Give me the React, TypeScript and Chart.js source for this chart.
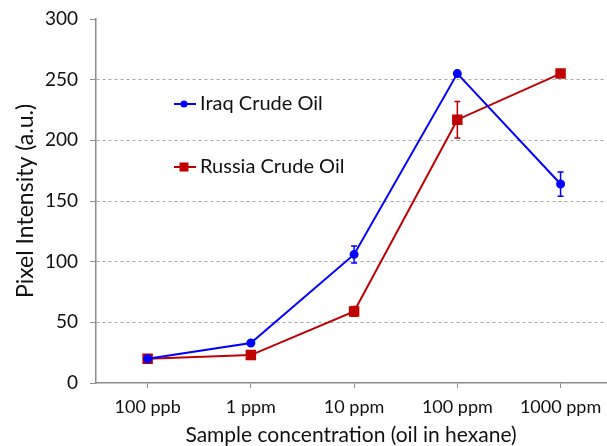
import React, { useEffect, useRef } from "react";
import { Chart, registerables } from "chart.js";

Chart.register(...registerables);

const categories = ["100 ppb", "1 ppm", "10 ppm", "100 ppm", "1000 ppm"];
const iraqValues = [20, 33, 106, 255, 164];
const iraqErrors = [0, 0, 7, 0, 10];
const russiaValues = [20, 23, 59, 217, 255];
const russiaErrors = [0, 0, 4, 15, 0];
const yTicks = [0, 50, 100, 150, 200, 250, 300];

const FONT = "Lato, 'Open Sans', sans-serif";

const errorBarPlugin = {
  id: "errorBars",
  afterDatasetsDraw(chart: any) {
    const ctx = chart.ctx;
    const ys = chart.scales.y;
    chart.data.datasets.forEach((ds: any, di: number) => {
      const meta = chart.getDatasetMeta(di);
      const errs: number[] = ds.errors || [];
      meta.data.forEach((pt: any, i: number) => {
        const e = errs[i];
        if (!e) return;
        const v = ds.data[i].y;
        const yTop = ys.getPixelForValue(v + e);
        const yBot = ys.getPixelForValue(v - e);
        const x = pt.x;
        ctx.save();
        ctx.strokeStyle = ds.borderColor;
        ctx.lineWidth = 1.5;
        ctx.beginPath();
        ctx.moveTo(x, yTop);
        ctx.lineTo(x, yBot);
        ctx.moveTo(x - 3, yTop);
        ctx.lineTo(x + 3, yTop);
        ctx.moveTo(x - 3, yBot);
        ctx.lineTo(x + 3, yBot);
        ctx.stroke();
        ctx.restore();
      });
    });
  },
};

const legendPlugin = {
  id: "insideLegend",
  afterDraw(chart: any) {
    const ctx = chart.ctx;
    const rows = [104, 167];
    chart.data.datasets.forEach((ds: any, di: number) => {
      const y = rows[di];
      ctx.save();
      ctx.strokeStyle = ds.borderColor;
      ctx.lineWidth = 2;
      ctx.beginPath();
      ctx.moveTo(174, y);
      ctx.lineTo(196, y);
      ctx.stroke();
      ctx.fillStyle = ds.backgroundColor;
      if (ds.pointStyle === "rect") {
        ctx.fillRect(184 - 4.5, y - 4.5, 9, 9);
      } else {
        ctx.beginPath();
        ctx.arc(184, y, 3.5, 0, Math.PI * 2);
        ctx.fill();
      }
      ctx.fillStyle = "#111";
      ctx.font = `20px ${FONT}`;
      ctx.textBaseline = "middle";
      ctx.textAlign = "left";
      ctx.fillText(ds.label, 200, y);
      ctx.restore();
    });
  },
};

export default function App() {
  const ref = useRef<HTMLCanvasElement>(null);
  useEffect(() => {
    document.body.style.margin = "0";
    const canvas = ref.current!;
    const chart = new Chart(canvas, {
      type: "line",
      data: {
        datasets: [
          {
            label: "Iraq Crude Oil",
            data: iraqValues.map((v, i) => ({ x: i, y: v })),
            errors: iraqErrors,
            borderColor: "#0000FF",
            backgroundColor: "#0000FF",
            borderWidth: 2,
            pointStyle: "circle",
            pointRadius: 3.5,
            pointHoverRadius: 3.5,
            tension: 0,
          } as any,
          {
            label: "Russia Crude Oil",
            data: russiaValues.map((v, i) => ({ x: i, y: v })),
            errors: russiaErrors,
            borderColor: "#C00000",
            backgroundColor: "#C00000",
            borderWidth: 2,
            pointStyle: "rect",
            pointRadius: 6,
            pointHoverRadius: 6,
            tension: 0,
          } as any,
        ],
      },
      options: {
        animation: false,
        responsive: false,
        layout: { autoPadding: false, padding: { top: 19, right: 1, left: 0, bottom: 0 } },
        plugins: { legend: { display: false }, tooltip: { enabled: false } },
        scales: {
          x: {
            type: "linear",
            min: -0.5,
            max: 4.44,
            afterBuildTicks: (s: any) => {
              s.ticks = categories.map((_, i) => ({ value: i }));
            },
            afterFit: (s: any) => {
              s.height = 63;
              s.paddingLeft = 0;
              s.paddingRight = 0;
            },
            ticks: {
              autoSkip: false,
              maxRotation: 0,
              padding: 8,
              color: "#111",
              font: { family: FONT, size: 18 },
              callback: (v: any) => categories[v] ?? "",
            },
            grid: { drawOnChartArea: false, tickLength: 5, tickColor: "#8c8c8c" },
            border: { color: "#8c8c8c", width: 1.5 },
            title: {
              display: true,
              text: "Sample concentration (oil in hexane)",
              color: "#111",
              font: { family: FONT, size: 21, lineHeight: 1 },
              padding: { top: 0, bottom: 0 },
            },
          },
          y: {
            min: 0,
            max: 300,
            afterBuildTicks: (s: any) => {
              s.ticks = yTicks.map((v) => ({ value: v }));
            },
            afterFit: (s: any) => {
              s.width = 96;
              s.paddingTop = 0;
              s.paddingBottom = 0;
            },
            ticks: {
              padding: 12,
              color: "#111",
              font: { family: FONT, size: 19 },
            },
            grid: {
              color: (c: any) =>
                c.tick && (c.tick.value === 0 || c.tick.value === 300) ? "rgba(0,0,0,0)" : "#a6a6a6",
              lineWidth: 1,
              tickLength: 6,
              tickColor: "#8c8c8c",
            },
            border: { color: "#8c8c8c", width: 1.5, dash: [3, 3] },
            title: {
              display: true,
              text: "Pixel Intensity (a.u.)",
              color: "#111",
              font: { family: FONT, size: 23, lineHeight: 1.2 },
              padding: { top: 12, bottom: 0 },
            },
          },
        },
      } as any,
      plugins: [errorBarPlugin, legendPlugin],
    });
    return () => chart.destroy();
  }, []);
  return <canvas ref={ref} width={607} height={446} style={{ display: "block" }} />;
}
